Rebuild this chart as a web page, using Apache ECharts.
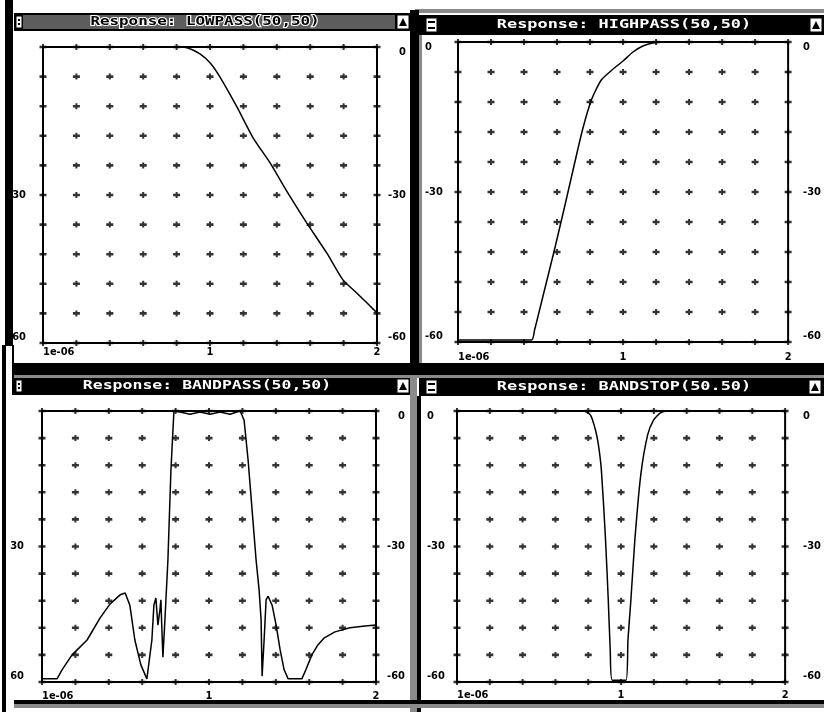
<!DOCTYPE html>
<html>
<head>
<meta charset="utf-8">
<title>Filter responses</title>
<script src="https://cdn.jsdelivr.net/npm/echarts@6/dist/echarts.min.js"></script>
<style>
  html, body { margin: 0; padding: 0; background: #fff; }
  #chart { width: 824px; height: 712px; }
</style>
</head>
<body>
<div id="chart"></div>
<script>
// x runs over the 10 grid divisions (1e-06 .. 1 .. 2), y is the response in dB
const gridX = [0, 1, 2, 3, 4, 5, 6, 7, 8, 9, 10];
const gridDb = [0, -6, -12, -18, -24, -30, -36, -42, -48, -54, -60];
const xTickLabels = { 0: '1e-06', 5: '1', 10: '2' };
const dbTickLabels = { 0: '0', '-30': '-30', '-60': '-60' };
// left edge of the left-hand windows: the minus sign is cut off
const dbTickLabelsCut = { '-30': '30', '-60': '60' };

const titles = [
  'Response: LOWPASS(50,50)',
  'Response: HIGHPASS(50,50)',
  'Response: BANDPASS(50,50)',
  'Response: BANDSTOP(50.50)'
];

const lowpassX  = [0, 4.1, 4.34, 4.7, 5.0, 5.3, 5.81, 6.29, 6.8, 7.19, 7.46, 7.9, 8.5, 8.98, 9.4, 10];
const lowpassDb = [0, 0, -0.2, -1.4, -3.2, -6.1, -12.2, -18.4, -23.5, -28, -31, -35.7, -41.8, -47.2, -49.9, -53.9];

const highpassX  = [0, 2.23, 2.32, 2.62, 2.92, 3.22, 3.52, 3.77, 4.04, 4.34, 4.7, 5.0, 5.3, 5.6, 5.9, 6.3, 10];
const highpassDb = [-59.6, -59.6, -57.6, -49.6, -41.6, -33.2, -24.6, -17.6, -11.6, -7.6, -5.4, -3.8, -2.0, -0.8, -0.2, 0, 0];

const bandpassX = [0, 0.45, 0.6, 0.9, 1.35, 1.74, 2.04, 2.34, 2.49, 2.63, 2.78, 2.96, 3.14, 3.29, 3.35, 3.41, 3.47, 3.53, 3.56, 3.59, 3.62, 3.68, 3.77, 3.86, 3.95,
  4.13, 4.43, 4.73, 5.03, 5.33, 5.63, 5.93, 6.05, 6.17, 6.29, 6.41, 6.5, 6.56, 6.59, 6.65, 6.71, 6.77, 6.89, 7.01, 7.13, 7.25, 7.37,
  7.78, 7.9, 8.08, 8.26, 8.44, 8.77, 9.22, 9.67, 10];
const bandpassDb = [-59.3, -59.3, -57.3, -54, -50.7, -45.8, -42.7, -40.7, -40.3, -43, -50.7, -56.2, -59.3, -50.7, -43, -41.4, -47.4, -44.1, -41.8, -48.5, -54.5, -46.3, -33, -13.1, 0,
  -0.2, -0.7, -0.2, -0.7, -0.2, -0.7, 0, -2, -10.8, -21.9, -33, -39.6, -46.3, -58.7, -50.7, -41.8, -41, -43, -47.4, -52.9, -57.3, -59.3,
  -59.3, -57.3, -54, -51.8, -50.3, -48.9, -48, -47.6, -47.4];

const bandstopX  = [0, 3.86, 4.07, 4.22, 4.31, 4.4, 4.52, 4.61, 4.67, 4.73, 5.15, 5.21, 5.3, 5.42, 5.6, 5.81, 5.99, 6.2, 6.42, 10];
const bandstopDb = [0, 0, -0.9, -4.2, -7.5, -13.1, -27.5, -41.8, -52.9, -59.6, -59.6, -50.7, -41.8, -28.6, -14.2, -5.3, -2, -0.4, 0, 0];

const labelFont = {
  color: '#000',
  fontFamily: "'Liberation Sans Narrow', 'DejaVu Sans Condensed', sans-serif",
  fontWeight: 'bold',
  fontSize: 11
};
// the little "+" drawn at every grid crossing
const plusSymbol = 'path://M0,1.7H7V4.3H0Z M2.5,0H4.5V6H2.5Z';

const panels = [
  { xs: lowpassX, ys: lowpassDb, smooth: 0.2, left: 43, top: 47, width: 334, height: 296, xMargin: 4,
    leftLabels: dbTickLabelsCut, leftAlign: 'right', leftMargin: 17, rightAlign: 'right', rightMargin: 29 },
  { xs: highpassX, ys: highpassDb, smooth: 0.2, left: 458, top: 42, width: 332, height: 300, xMargin: 10,
    leftLabels: dbTickLabels, leftAlign: 'left', leftMargin: 33, rightAlign: 'left', rightMargin: 15 },
  { xs: bandpassX, ys: bandpassDb, smooth: false, left: 42, top: 411, width: 334, height: 271, xMargin: 9,
    leftLabels: dbTickLabelsCut, leftAlign: 'right', leftMargin: 18, rightAlign: 'right', rightMargin: 29 },
  { xs: bandstopX, ys: bandstopDb, smooth: 0.2, left: 457, top: 411, width: 331, height: 271, xMargin: 8,
    leftLabels: dbTickLabels, leftAlign: 'left', leftMargin: 30, rightAlign: 'left', rightMargin: 18 }
];

const crossings = [];
gridX.forEach(function (x) {
  gridDb.forEach(function (y) { crossings.push([x, y]); });
});

const grid = [], xAxis = [], yAxis = [], series = [];
panels.forEach(function (p, i) {
  grid.push({
    left: p.left, top: p.top, width: p.width, height: p.height,
    show: true, borderColor: '#000', borderWidth: 2, backgroundColor: 'transparent'
  });
  xAxis.push({
    gridIndex: i, type: 'value', min: 0, max: 10, interval: 1, position: 'bottom',
    axisLine: { show: false },
    axisTick: { show: false },
    axisLabel: Object.assign({
      margin: p.xMargin, alignMinLabel: 'left',
      formatter: function (v) { return xTickLabels[v] || ''; }
    }, labelFont),
    splitLine: { show: false }
  });
  yAxis.push({
    gridIndex: i, type: 'value', min: -60, max: 0, interval: 6, position: 'right',
    axisLine: { show: false },
    axisTick: { show: false },
    axisLabel: Object.assign({
      margin: p.rightMargin, align: p.rightAlign,
      verticalAlignMinLabel: 'bottom', verticalAlignMaxLabel: 'top',
      formatter: function (v) { return dbTickLabels[v] || ''; }
    }, labelFont),
    splitLine: { show: false }
  });
  yAxis.push({
    gridIndex: i, type: 'value', min: -60, max: 0, interval: 6, position: 'left',
    axisLine: { show: false },
    axisTick: { show: false },
    axisLabel: Object.assign({
      margin: p.leftMargin, align: p.leftAlign,
      verticalAlignMinLabel: 'bottom', verticalAlignMaxLabel: 'top',
      formatter: function (v) { return p.leftLabels[v] || ''; }
    }, labelFont),
    splitLine: { show: false }
  });
  series.push({
    type: 'scatter', xAxisIndex: i, yAxisIndex: 2 * i,
    data: crossings, symbol: plusSymbol, symbolSize: [7, 6], symbolKeepAspect: false,
    itemStyle: { color: '#000' }, clip: false, silent: true, z: 1
  });
  series.push({
    type: 'line', xAxisIndex: i, yAxisIndex: 2 * i,
    data: p.xs.map(function (x, k) { return [x, p.ys[k]]; }),
    symbol: 'none', showSymbol: false,
    smooth: p.smooth,
    lineStyle: { color: '#000', width: 1.5 }, z: 3
  });
});

// window chrome: frames, title bars and their buttons
const black = '#000';
const dotted = '#8a8a8a';
function box(x, y, w, h, fill) {
  return { type: 'rect', shape: { x: x, y: y, width: w, height: h }, style: { fill: fill } };
}
function sysIcon(x, y, w, h) {
  return [
    { type: 'rect', shape: { x: x, y: y, width: w, height: h }, style: { fill: '#fff', stroke: black, lineWidth: 1 } },
    box(x + 2, y + 3, w - 4, 2, black),
    box(x + 2, y + h - 5, w - 4, 2, black)
  ];
}
function maxButton(x, y, w, h) {
  return [
    { type: 'rect', shape: { x: x, y: y, width: w, height: h }, style: { fill: '#fff', stroke: black, lineWidth: 1 } },
    { type: 'polygon', shape: { points: [[x + 2, y + h - 3], [x + w / 2, y + 3], [x + w - 2, y + h - 3]] }, style: { fill: black } }
  ];
}
function titleText(text, cx, cy, sx, inactive) {
  return {
    type: 'text', x: cx, y: cy, scaleX: sx,
    style: {
      text: text, font: 'bold 13px "DejaVu Sans Mono", monospace',
      fill: inactive ? '#000' : '#fff',
      stroke: inactive ? '#fff' : null, lineWidth: inactive ? 2 : 0,
      align: 'center', verticalAlign: 'middle', textAlign: 'center', textVerticalAlign: 'middle'
    }
  };
}

const graphic = [].concat(
  // top-left window (inactive)
  box(5, 0, 8, 346, black),
  box(14, 13, 396, 18, black),
  box(23, 15, 372, 14, '#5d5d5d'),
  sysIcon(16, 16, 6, 12),
  maxButton(397, 15, 12, 14),
  titleText(titles[0], 205, 22, 1.22, true),
  // top-right window
  box(415, 9, 409, 4, dotted),
  box(410, 10, 9, 353, black),
  box(419, 35, 3, 328, dotted),
  box(419, 15, 405, 20, black),
  sysIcon(426, 18, 11, 14),
  maxButton(810, 18, 12, 14),
  titleText(titles[1], 624, 25, 1.3, false),
  // band between the rows of windows
  box(14, 363, 810, 13, black),
  box(14, 375, 810, 3, dotted),
  box(2, 345, 4, 367, black),
  box(12, 345, 2, 50, black),
  // bottom-left window
  box(14, 378, 396, 17, black),
  sysIcon(16, 380, 6, 12),
  maxButton(397, 379, 12, 14),
  titleText(titles[2], 207, 386, 1.27, false),
  // bottom-right window
  box(410, 378, 7, 334, dotted),
  box(417, 396, 4, 316, black),
  box(419, 378, 405, 18, black),
  sysIcon(426, 380, 11, 14),
  maxButton(809, 380, 12, 14),
  titleText(titles[3], 624, 387, 1.3, false),
  // bottom frame
  box(14, 700, 810, 4, black),
  box(14, 704, 810, 4, dotted)
);

const chart = echarts.init(document.getElementById('chart'), null, { renderer: 'canvas' });
chart.setOption({
  animation: false,
  backgroundColor: '#fff',
  grid: grid,
  xAxis: xAxis,
  yAxis: yAxis,
  series: series,
  graphic: graphic
});
window.addEventListener('resize', function () { chart.resize(); });
</script>
</body>
</html>
